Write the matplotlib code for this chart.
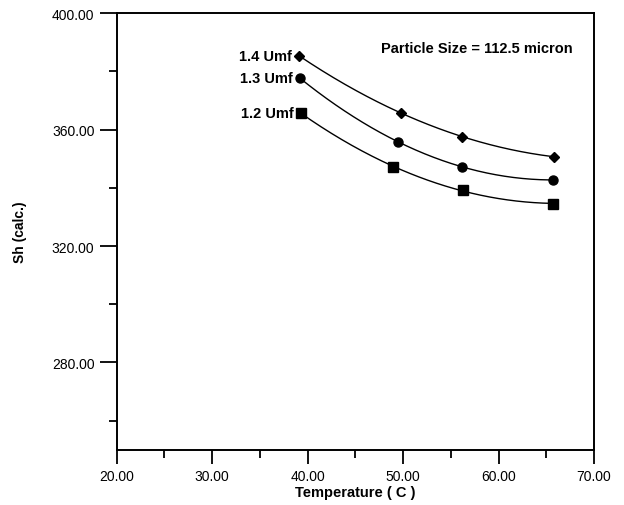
import numpy as np
import matplotlib
matplotlib.use("Agg")
import matplotlib.pyplot as plt
from matplotlib.ticker import MultipleLocator, FormatStrFormatter

plt.rcParams['font.family'] = ['Liberation Sans', 'DejaVu Sans']

# data
temp_14 = [39.1, 49.8, 56.2, 65.8]
sh_14 = [385.4, 365.7, 357.6, 350.7]
temp_13 = [39.2, 49.5, 56.2, 65.7]
sh_13 = [377.7, 355.7, 347.3, 342.7]
temp_12 = [39.3, 48.9, 56.3, 65.7]
sh_12 = [365.7, 347.3, 339.1, 334.6]

series = [
    ("1.4 Umf", temp_14, sh_14, "D", 5.5),
    ("1.3 Umf", temp_13, sh_13, "o", 6.5),
    ("1.2 Umf", temp_12, sh_12, "s", 7),
]

fig = plt.figure(figsize=(6.24, 5.06), dpi=100)
ax = fig.add_axes([116.7 / 624, 1 - 450.7 / 506, (594 - 116.7) / 624, (450.7 - 14.3) / 506])

for name, x, y, mk, ms in series:
    coef = np.polyfit(x, y, 2)
    xs = np.linspace(min(x), max(x), 200)
    ax.plot(xs, np.polyval(coef, xs), color="black", lw=1.0)
    ax.plot(x, y, linestyle="none", marker=mk, ms=ms, color="black")
    ax.annotate(name, (x[0], y[0]), xytext=(-5, 0), textcoords="offset points",
                ha="right", va="center", fontsize=10.5, fontweight="bold")

ax.text(0.955, 0.92, "Particle Size = 112.5 micron", transform=ax.transAxes,
        ha="right", va="center", fontsize=10.5, fontweight="bold")

ax.set_xlim(20, 70)
ax.set_ylim(250, 400)
ax.xaxis.set_major_locator(MultipleLocator(10))
ax.xaxis.set_minor_locator(MultipleLocator(5))
ax.yaxis.set_minor_locator(MultipleLocator(20))
ax.set_yticks([280, 320, 360, 400])
ax.xaxis.set_major_formatter(FormatStrFormatter("%.2f"))
ax.yaxis.set_major_formatter(FormatStrFormatter("%.2f"))

ax.tick_params(axis="x", which="major", direction="out", length=10, width=1.3, pad=4, labelsize=10)
ax.tick_params(axis="x", which="minor", direction="out", length=5.5, width=1.3)
ax.tick_params(axis="y", which="major", direction="out", length=12, width=1.3, pad=4, labelsize=10)
ax.tick_params(axis="y", which="minor", direction="out", length=6, width=1.3)
for s in ax.spines.values():
    s.set_linewidth(1.4)

ax.set_xlabel("Temperature ( C )", fontsize=10.5, fontweight="bold", labelpad=1)
ax.set_ylabel("Sh (calc.)", fontsize=10, fontweight="bold", labelpad=18)

fig.savefig("out.png", dpi=100)
